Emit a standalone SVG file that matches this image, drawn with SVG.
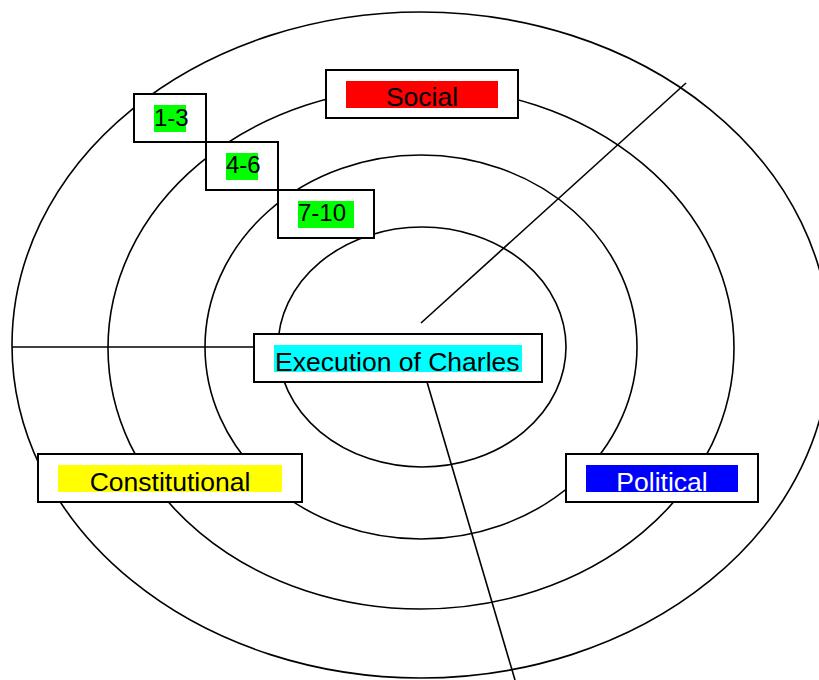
<svg xmlns="http://www.w3.org/2000/svg" width="819" height="680" viewBox="0 0 819 680">
<style>
.ring{fill:none;stroke:#000;stroke-width:1.6}
.ln{stroke:#000;stroke-width:1.6;fill:none}
.box{fill:#fff;stroke:#000;stroke-width:2}
.t{font-family:"Liberation Sans",Arial,sans-serif;font-size:26.5px;fill:#000}
.n{font-family:"Liberation Sans",Arial,sans-serif;font-size:24px;fill:#000}
</style>
<rect width="819" height="680" fill="#fff"/>
<g id="rings">
<ellipse class="ring" cx="421" cy="345" rx="409" ry="333"/>
<ellipse class="ring" cx="421" cy="348" rx="313" ry="261"/>
<ellipse class="ring" cx="421" cy="347" rx="216" ry="192"/>
<ellipse class="ring" cx="422" cy="347" rx="144" ry="120"/>
</g>
<g id="connectors">
<line class="ln" x1="12" y1="347" x2="255" y2="347"/>
<line class="ln" x1="421" y1="323" x2="686" y2="83"/>
<line class="ln" x1="427" y1="382" x2="515" y2="680"/>
</g>
<g id="social">
<rect class="box" x="326" y="70" width="192" height="48"/>
<rect x="346" y="81" width="152" height="27" fill="#ff0000"/>
<text class="t" x="422" y="105.5" text-anchor="middle">Social</text>
</g>
<g id="r1-3">
<rect class="box" x="134" y="94" width="72" height="48"/>
<rect x="154" y="105" width="32" height="27" fill="#00ff00"/>
<text class="n" x="154" y="126">1-3</text>
</g>
<g id="r4-6">
<rect class="box" x="206" y="142" width="72" height="48"/>
<rect x="226" y="153" width="32" height="27" fill="#00ff00"/>
<text class="n" x="226" y="173">4-6</text>
</g>
<g id="r7-10">
<rect class="box" x="278" y="190" width="96" height="48"/>
<rect x="298" y="201" width="56" height="27" fill="#00ff00"/>
<text class="n" x="298" y="221">7-10</text>
</g>
<g id="execution">
<rect class="box" x="254" y="334" width="288" height="48"/>
<rect x="274" y="345" width="248" height="27" fill="#00ffff"/>
<text class="t" x="275" y="370.5">Execution of Charles</text>
</g>
<g id="constitutional">
<rect class="box" x="38" y="454" width="264" height="48"/>
<rect x="58" y="465" width="224" height="27" fill="#ffff00"/>
<text class="t" x="170" y="490.5" text-anchor="middle">Constitutional</text>
</g>
<g id="political">
<rect class="box" x="566" y="454" width="192" height="48"/>
<rect x="586" y="465" width="152" height="27" fill="#0000ff"/>
<text class="t" x="662" y="490.5" text-anchor="middle" style="fill:#fff">Political</text>
</g>
</svg>
